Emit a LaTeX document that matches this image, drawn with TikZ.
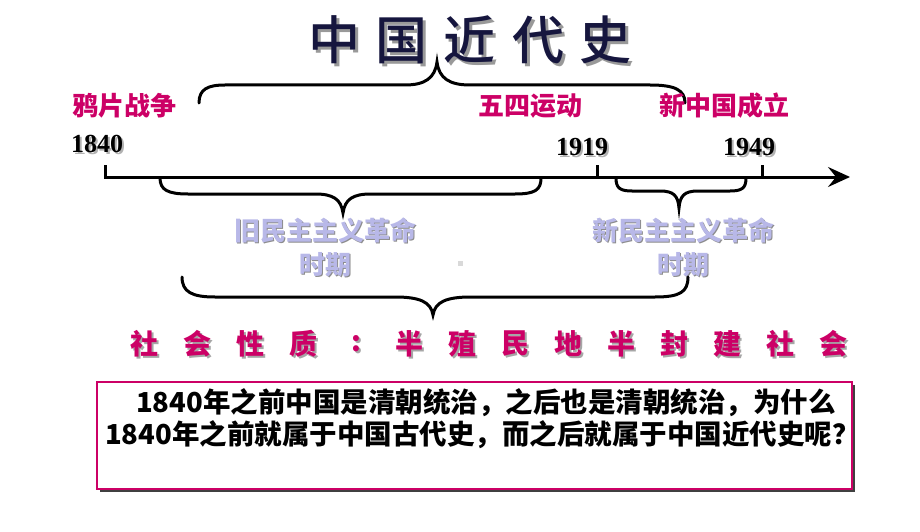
\documentclass[tikz,border=0pt]{standalone}
\usepackage{fontspec}
\setmainfont{Liberation Serif}[BoldFont={Liberation Serif Bold}]
\newfontfamily\cjk{Noto Sans CJK SC}
\newfontfamily\cjkmedium{Noto Sans CJK SC}[UprightFont={* Medium}]
\usepackage{tikz}
\usetikzlibrary{arrows.meta,shadows}

\definecolor{eventred}{RGB}{204,0,102}
\definecolor{lavender}{RGB}{184,184,232}
\definecolor{titlenavy}{RGB}{22,22,62}

\tikzset{
  brace line/.style={line width=3pt,line cap=round},
  event/.style={inner sep=0,text=eventred,font=\cjk\bfseries\fontsize{26}{26}\selectfont},
  year/.style={inner sep=0,font=\bfseries\fontsize{26}{26}\selectfont},
  year shadow/.style={year,text=black!30},
  period/.style={inner sep=0,align=center,text=lavender,font=\cjk\bfseries\fontsize{26}{34}\selectfont},
  period shadow/.style={period,text=black!45},
  nature/.style={inner sep=0,text=eventred,font=\cjk\bfseries\fontsize{28}{28}\selectfont},
  question/.style={inner sep=0,anchor=west,font=\cjk\bfseries\fontsize{27.5}{27.5}\selectfont}
}

\begin{document}
\begin{tikzpicture}[x=1pt,y=-1pt]
\useasboundingbox (0,0) rectangle (920,532);

\node[inner sep=0,text=black!40,font=\cjkmedium\fontsize{52}{52}\selectfont] (titleshadow) at (473,43) {中\hspace{16pt}国\hspace{16pt}近\hspace{16pt}代\hspace{16pt}史};
\node[inner sep=0,text=titlenavy,font=\cjkmedium\fontsize{52}{52}\selectfont] (title) at (470,40) {中\hspace{16pt}国\hspace{16pt}近\hspace{16pt}代\hspace{16pt}史};

\draw[brace line] (199,103) .. controls (199,89) and (208,85) .. (225,85) -- (405,85)
  .. controls (425,85) and (435,78) .. (437,62) .. controls (439,78) and (449,85) .. (470,85)
  -- (650,85) .. controls (675,85) and (685,90) .. (685,103);

\node[event] (opium) at (124,106) {鸦片战争};
\node[event] (may4) at (530,106) {五四运动};
\node[event] (prc) at (724,106) {新中国成立};
\node[year shadow] (s1840) at (99,146) {1840};
\node[year] (y1840) at (97,144) {1840};
\node[year shadow] (s1919) at (584,149) {1919};
\node[year] (y1919) at (582,147) {1919};
\node[year shadow] (s1949) at (751,149) {1949};
\node[year] (y1949) at (749,147) {1949};

\draw[line width=3pt,-{Stealth[length=22pt,width=20pt,inset=8pt]}] (105,165) -- (105,177) -- (850,177);
\foreach \x in {597,762}
\draw[line width=3pt] (\x,165) -- (\x,177);

\draw[brace line] (160,178) .. controls (160,190) and (168,194) .. (188,194) -- (315,194)
  .. controls (333,194) and (341,199) .. (343,213) .. controls (345,199) and (353,194) .. (371,194)
  -- (515,194) .. controls (535,194) and (541,190) .. (541,178);
\draw[brace line] (616,178) .. controls (616,188) and (620,191) .. (632,191) -- (660,191)
  .. controls (674,191) and (678,196) .. (679,208) .. controls (680,196) and (684,191) .. (698,191)
  -- (730,191) .. controls (742,191) and (746,188) .. (746,178);

\node[period shadow] (oldshadow) at (326.5,248.5) {旧民主主义革命\\时期};
\node[period] (old) at (325,247) {旧民主主义革命\\时期};
\node[period shadow] (newshadow) at (684.5,248.5) {新民主主义革命\\时期};
\node[period] (new) at (683,247) {新民主主义革命\\时期};
\fill[black!15] (458,261) rectangle (463,266);

\draw[brace line] (182,277) .. controls (182,292) and (192,297) .. (215,297) -- (395,297)
  .. controls (420,297) and (431,302) .. (433,315) .. controls (435,302) and (446,297) .. (471,297)
  -- (655,297) .. controls (680,297) and (688,292) .. (688,277);

\foreach \c [count=\i] in {社,会,性,质,:,半,殖,民,地,半,封,建,社,会} {
  \node[nature,text=black!35] (ns\i) at (93+53*\i,346) {\c};
  \node[nature] (n\i) at (91+53*\i,344) {\c};
}

\node[draw=eventred,line width=2pt,fill=white,minimum width=755pt,minimum height=107pt,
  drop shadow={shadow xshift=3pt,shadow yshift=-3pt,fill=black!75,opacity=1}] (qbox) at (474.5,435.5) {};
\node[question] (q1) at (136,403) {1840年之前中国是清朝统治，之后也是清朝统治，为什么};
\node[question] (q2) at (105,435) {1840年之前就属于中国古代史，而之后就属于中国近代史呢？};
\end{tikzpicture}
\end{document}
